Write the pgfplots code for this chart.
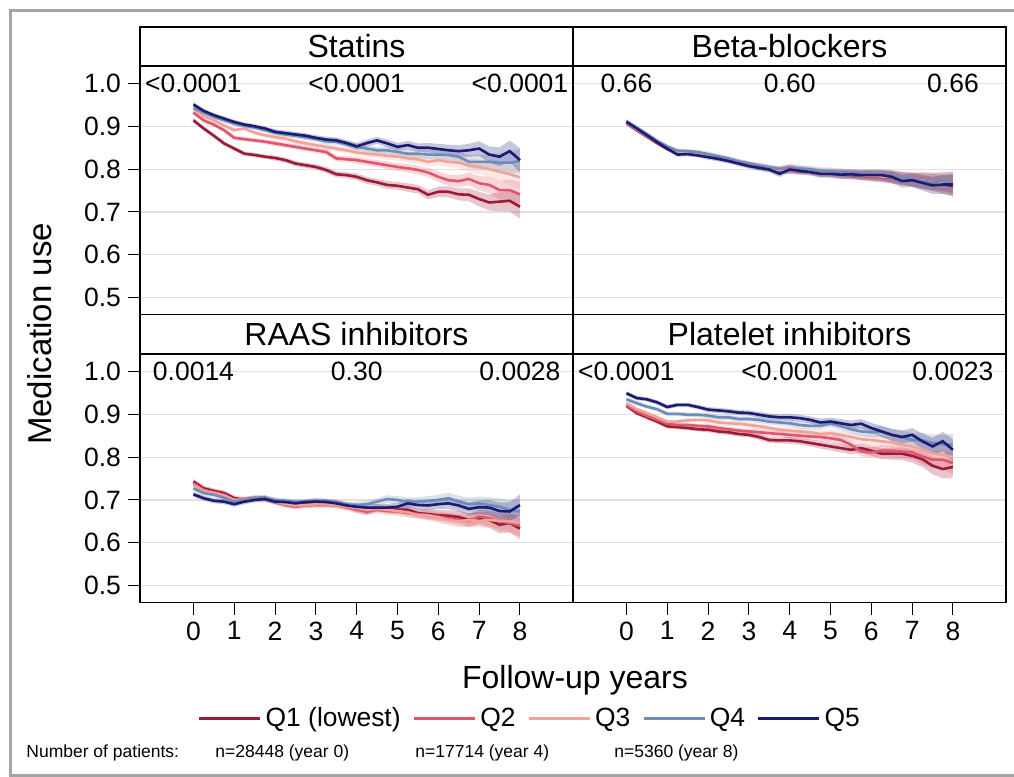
\documentclass[border=0pt]{standalone}
\usepackage{fontspec}
\setmainfont{Liberation Sans}
\usepackage{pgfplots}
\pgfplotsset{compat=1.18}
\usepackage{pgfplotstable}
\usepgfplotslibrary{fillbetween}

\definecolor{c1}{RGB}{158,27,56}
\definecolor{c2}{RGB}{224,86,110}
\definecolor{c3}{RGB}{240,163,150}
\definecolor{c4}{RGB}{110,140,184}
\definecolor{c5}{RGB}{27,27,115}
\definecolor{gridc}{RGB}{225,225,225}
\definecolor{framec}{RGB}{165,165,165}

% medication use by quintile, quarterly; e = half-width of the band
\pgfplotstableread{
t    q1    q2    q3    q4    q5    e
0.00 0.914 0.932 0.941 0.943 0.951 0.005
0.25 0.895 0.914 0.924 0.932 0.936 0.005
0.50 0.878 0.904 0.914 0.922 0.926 0.005
0.75 0.860 0.891 0.902 0.914 0.918 0.005
1.00 0.848 0.873 0.891 0.906 0.910 0.005
1.25 0.836 0.870 0.895 0.901 0.904 0.005
1.50 0.833 0.867 0.885 0.897 0.900 0.005
1.75 0.829 0.864 0.879 0.891 0.895 0.005
2.00 0.826 0.860 0.875 0.885 0.887 0.006
2.25 0.821 0.856 0.871 0.881 0.884 0.006
2.50 0.813 0.852 0.865 0.878 0.881 0.006
2.75 0.809 0.848 0.860 0.874 0.878 0.006
3.00 0.805 0.844 0.856 0.870 0.873 0.006
3.25 0.798 0.840 0.852 0.865 0.869 0.007
3.50 0.788 0.825 0.848 0.864 0.867 0.007
3.75 0.786 0.823 0.844 0.858 0.861 0.007
4.00 0.782 0.821 0.839 0.852 0.853 0.008
4.25 0.774 0.817 0.836 0.848 0.861 0.008
4.50 0.769 0.813 0.834 0.844 0.867 0.008
4.75 0.763 0.809 0.831 0.844 0.860 0.009
5.00 0.761 0.805 0.829 0.840 0.852 0.009
5.25 0.757 0.802 0.825 0.836 0.856 0.010
5.50 0.753 0.798 0.823 0.836 0.850 0.010
5.75 0.740 0.792 0.817 0.834 0.850 0.011
6.00 0.747 0.782 0.821 0.834 0.847 0.012
6.25 0.747 0.774 0.817 0.833 0.844 0.013
6.50 0.741 0.772 0.815 0.829 0.842 0.014
6.75 0.740 0.777 0.809 0.817 0.844 0.015
7.00 0.730 0.767 0.805 0.817 0.848 0.017
7.25 0.722 0.763 0.800 0.817 0.834 0.019
7.50 0.724 0.751 0.794 0.815 0.829 0.022
7.75 0.726 0.751 0.788 0.815 0.842 0.025
8.00 0.712 0.741 0.781 0.819 0.821 0.028
}\tabStatins

\pgfplotstableread{
t    q1    q2    q3    q4    q5    e
0.00 0.907 0.909 0.908 0.912 0.910 0.005
0.25 0.891 0.893 0.893 0.897 0.895 0.005
0.50 0.876 0.877 0.878 0.882 0.879 0.005
0.75 0.861 0.862 0.864 0.866 0.863 0.005
1.00 0.847 0.849 0.850 0.853 0.848 0.005
1.25 0.838 0.841 0.840 0.843 0.834 0.005
1.50 0.839 0.840 0.838 0.842 0.835 0.005
1.75 0.836 0.837 0.836 0.840 0.832 0.005
2.00 0.831 0.832 0.831 0.835 0.828 0.006
2.25 0.826 0.827 0.826 0.830 0.824 0.006
2.50 0.822 0.822 0.821 0.825 0.819 0.006
2.75 0.815 0.817 0.816 0.818 0.813 0.006
3.00 0.810 0.812 0.810 0.813 0.807 0.006
3.25 0.805 0.807 0.806 0.808 0.803 0.007
3.50 0.801 0.802 0.802 0.804 0.799 0.007
3.75 0.797 0.800 0.798 0.800 0.789 0.007
4.00 0.797 0.805 0.797 0.803 0.799 0.008
4.25 0.795 0.800 0.797 0.801 0.796 0.008
4.50 0.795 0.797 0.795 0.800 0.793 0.008
4.75 0.791 0.793 0.792 0.795 0.789 0.009
5.00 0.790 0.792 0.791 0.795 0.789 0.009
5.25 0.788 0.790 0.789 0.792 0.787 0.010
5.50 0.786 0.790 0.788 0.790 0.788 0.010
5.75 0.785 0.787 0.786 0.789 0.786 0.011
6.00 0.783 0.786 0.784 0.788 0.786 0.012
6.25 0.782 0.784 0.783 0.786 0.786 0.013
6.50 0.780 0.783 0.781 0.784 0.782 0.014
6.75 0.778 0.779 0.778 0.779 0.772 0.015
7.00 0.775 0.776 0.775 0.776 0.774 0.016
7.25 0.772 0.775 0.773 0.772 0.768 0.018
7.50 0.769 0.772 0.770 0.770 0.762 0.020
7.75 0.765 0.770 0.768 0.772 0.764 0.022
8.00 0.760 0.770 0.765 0.768 0.764 0.025
}\tabBeta

\pgfplotstableread{
t    q1    q2    q3    q4    q5    e
0.00 0.743 0.739 0.735 0.727 0.713 0.006
0.25 0.727 0.723 0.721 0.716 0.704 0.006
0.50 0.721 0.718 0.716 0.712 0.698 0.006
0.75 0.716 0.712 0.710 0.705 0.696 0.006
1.00 0.704 0.700 0.700 0.696 0.690 0.006
1.25 0.700 0.702 0.700 0.700 0.696 0.006
1.50 0.704 0.704 0.702 0.704 0.700 0.006
1.75 0.705 0.702 0.702 0.705 0.702 0.006
2.00 0.696 0.695 0.696 0.700 0.696 0.006
2.25 0.690 0.688 0.690 0.698 0.695 0.006
2.50 0.688 0.684 0.687 0.696 0.692 0.006
2.75 0.690 0.687 0.688 0.696 0.695 0.006
3.00 0.692 0.688 0.690 0.698 0.696 0.007
3.25 0.694 0.688 0.690 0.696 0.695 0.007
3.50 0.692 0.687 0.688 0.694 0.692 0.007
3.75 0.688 0.682 0.684 0.688 0.687 0.007
4.00 0.679 0.677 0.681 0.688 0.684 0.008
4.25 0.673 0.673 0.677 0.690 0.682 0.008
4.50 0.681 0.677 0.679 0.696 0.682 0.008
4.75 0.679 0.674 0.677 0.702 0.682 0.009
5.00 0.677 0.673 0.674 0.700 0.684 0.009
5.25 0.677 0.669 0.671 0.696 0.692 0.010
5.50 0.669 0.667 0.665 0.696 0.688 0.010
5.75 0.667 0.664 0.664 0.698 0.687 0.011
6.00 0.664 0.661 0.659 0.700 0.690 0.012
6.25 0.663 0.657 0.653 0.704 0.692 0.013
6.50 0.660 0.653 0.650 0.696 0.687 0.014
6.75 0.653 0.651 0.653 0.690 0.679 0.015
7.00 0.657 0.661 0.651 0.692 0.683 0.016
7.25 0.653 0.657 0.653 0.688 0.682 0.018
7.50 0.642 0.650 0.651 0.684 0.674 0.020
7.75 0.646 0.646 0.650 0.677 0.673 0.022
8.00 0.633 0.640 0.646 0.673 0.688 0.025
}\tabRaas

\pgfplotstableread{
t    q1    q2    q3    q4    q5    e
0.00 0.920 0.922 0.926 0.935 0.949 0.005
0.25 0.903 0.907 0.912 0.926 0.938 0.005
0.50 0.893 0.896 0.903 0.918 0.935 0.005
0.75 0.883 0.887 0.893 0.912 0.928 0.005
1.00 0.872 0.878 0.883 0.901 0.917 0.005
1.25 0.870 0.875 0.883 0.901 0.922 0.005
1.50 0.868 0.875 0.886 0.899 0.922 0.005
1.75 0.865 0.873 0.887 0.899 0.917 0.005
2.00 0.864 0.872 0.886 0.897 0.911 0.006
2.25 0.860 0.868 0.881 0.893 0.909 0.006
2.50 0.858 0.865 0.879 0.893 0.907 0.006
2.75 0.854 0.862 0.878 0.889 0.904 0.006
3.00 0.852 0.860 0.875 0.889 0.903 0.006
3.25 0.847 0.858 0.872 0.887 0.899 0.007
3.50 0.840 0.856 0.868 0.883 0.895 0.007
3.75 0.839 0.854 0.864 0.881 0.893 0.007
4.00 0.839 0.852 0.862 0.879 0.893 0.008
4.25 0.837 0.850 0.860 0.875 0.891 0.008
4.50 0.833 0.848 0.858 0.873 0.887 0.008
4.75 0.829 0.847 0.854 0.873 0.881 0.009
5.00 0.825 0.844 0.856 0.879 0.883 0.009
5.25 0.821 0.840 0.852 0.873 0.879 0.010
5.50 0.817 0.829 0.847 0.865 0.875 0.010
5.75 0.821 0.813 0.842 0.860 0.878 0.011
6.00 0.815 0.811 0.840 0.858 0.868 0.012
6.25 0.808 0.815 0.837 0.860 0.860 0.013
6.50 0.808 0.815 0.834 0.852 0.852 0.014
6.75 0.808 0.813 0.829 0.847 0.847 0.015
7.00 0.803 0.811 0.825 0.840 0.852 0.016
7.25 0.795 0.801 0.817 0.839 0.837 0.018
7.50 0.780 0.794 0.808 0.833 0.825 0.020
7.75 0.772 0.794 0.805 0.830 0.837 0.022
8.00 0.777 0.786 0.800 0.829 0.817 0.025
}\tabPlatelet

\newcommand{\qband}[3]{%
  \addplot[draw=none, forget plot, name path=u#2] table[x=t, y expr=\thisrow{#2}+\thisrow{e}] {#1};
  \addplot[draw=none, forget plot, name path=l#2] table[x=t, y expr=\thisrow{#2}-\thisrow{e}] {#1};
  \addplot[fill=#3, fill opacity=0.25, draw=none, forget plot] fill between[of=u#2 and l#2];
}
\newcommand{\qline}[3]{\addplot[#3, line width=1.3pt] table[x=t, y=#2] {#1};}
\newcommand{\quintiles}[1]{%
  \qband{#1}{q1}{c1}\qband{#1}{q2}{c2}\qband{#1}{q3}{c3}\qband{#1}{q4}{c4}\qband{#1}{q5}{c5}%
  \qline{#1}{q1}{c1}\qline{#1}{q2}{c2}\qline{#1}{q3}{c3}\qline{#1}{q4}{c4}\qline{#1}{q5}{c5}%
}
\newcommand{\pvals}[3]{%
  \node[font=\fontsize{13.25}{15}\selectfont] at (axis cs:0,1) {#1};
  \node[font=\fontsize{13.25}{15}\selectfont] at (axis cs:4,1) {#2};
  \node[font=\fontsize{13.25}{15}\selectfont] at (axis cs:8,1) {#3};
}

\pgfplotsset{
  panel/.style={
    scale only axis, width=216.5pt, height=124.25pt,
    anchor=north west,
    xmin=-1.31, xmax=9.3, ymin=0.4603, ymax=1.0409,
    axis line style={line width=0.6pt},
    ytick={0.5,0.6,0.7,0.8,0.9,1.0},
    ymajorgrids, grid style={gridc, line width=0.6pt},
    xtick={0,1,2,3,4,5,6,7,8},
    tick pos=left, tick align=outside, major tick length=6pt,
    tick style={black, line width=0.5pt},
    ticklabel style={font=\fontsize{13.25}{15}\selectfont},
    /pgf/number format/assume math mode=true,
    yticklabel style={/pgf/number format/.cd, fixed, fixed zerofill, precision=1},
    no markers,
  },
  toprow/.style={xtick=\empty},
  rightcol/.style={yticklabels={}, ytick style={draw=none}},
}

\begin{document}
\begin{tikzpicture}

\begin{axis}[panel, toprow, at={(70pt,-33pt)}]
  \quintiles{\tabStatins}
  \pvals{<0.0001}{<0.0001}{<0.0001}
\end{axis}

\begin{axis}[panel, toprow, rightcol, at={(286.5pt,-33pt)}]
  \quintiles{\tabBeta}
  \pvals{0.66}{0.60}{0.66}
\end{axis}

\begin{axis}[panel, at={(70pt,-177pt)},
    legend columns=5,
    legend style={at={(0.903,-0.467)}, anchor=center, draw=none, fill=none,
      font=\fontsize{13.2}{15}\selectfont,
      /tikz/every even column/.append style={column sep=4pt}},
    legend image code/.code={\draw[#1, line width=1.3pt] (0pt,0pt) -- (30.5pt,0pt);}]
  \quintiles{\tabRaas}
  \pvals{0.0014}{0.30}{0.0028}
  \legend{Q1 (lowest),Q2,Q3,Q4,Q5}
\end{axis}

\begin{axis}[panel, rightcol, at={(286.5pt,-177pt)}]
  \quintiles{\tabPlatelet}
  \pvals{<0.0001}{<0.0001}{0.0023}
\end{axis}

% panel headers
\draw[line width=0.6pt] (70pt,-13.5pt) rectangle (503pt,-33pt);
\draw[line width=0.6pt] (70pt,-157.25pt) rectangle (503pt,-177pt);
\draw[line width=0.6pt] (286.5pt,-13.5pt) -- (286.5pt,-301.25pt);
\node[font=\fontsize{16}{19}\selectfont] at (178.25pt,-23.25pt) {Statins};
\node[font=\fontsize{16}{19}\selectfont] at (394.75pt,-23.25pt) {Beta-blockers};
\node[font=\fontsize{16}{19}\selectfont] at (178.25pt,-167.1pt) {RAAS inhibitors};
\node[font=\fontsize{16}{19}\selectfont] at (394.75pt,-167.1pt) {Platelet inhibitors};

% axis titles
\node[font=\fontsize{16}{19}\selectfont] at (287.5pt,-340pt) {Follow-up years};
\node[font=\fontsize{16.5}{19}\selectfont, rotate=90] at (20pt,-167pt) {Medication use};

% footnote
\begin{scope}[every node/.style={font=\fontsize{8.75}{10}\selectfont, anchor=west, inner sep=0pt}]
\node at (13pt,-376.5pt) {Number of patients:};
\node at (107.5pt,-376.5pt) {n=28448 (year 0)};
\node at (207.5pt,-376.5pt) {n=17714 (year 4)};
\node at (307pt,-376.5pt) {n=5360 (year 8)};
\end{scope}

% outer frame
\draw[framec, line width=1.5pt] (510pt,-5pt) -- (5pt,-5pt) -- (5pt,-387.5pt) -- (510pt,-387.5pt);

\pgfresetboundingbox
\path[use as bounding box] (0pt,0pt) rectangle (507pt,-388.5pt);
\end{tikzpicture}
\end{document}
